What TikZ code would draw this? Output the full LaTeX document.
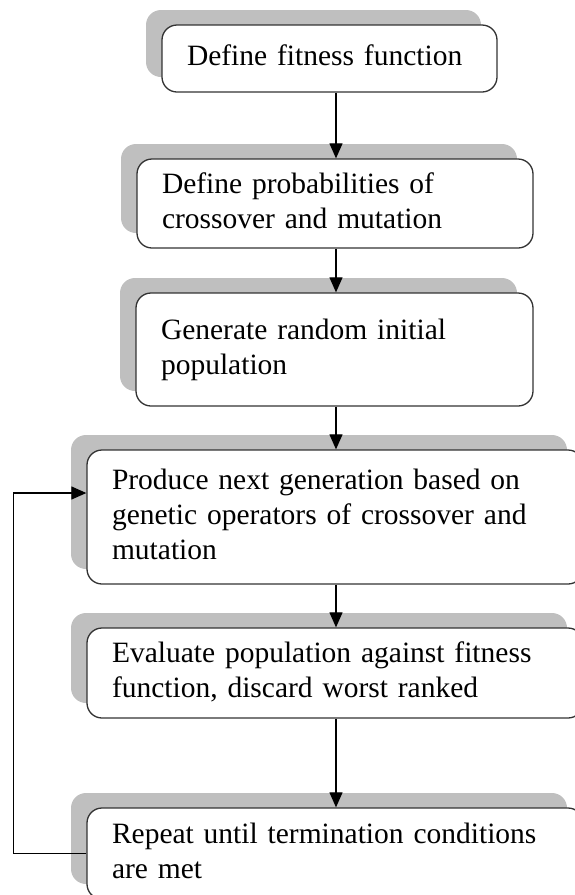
\documentclass[tikz,border=0pt]{standalone}
\usepackage{fontspec}
\setmainfont{Liberation Serif}
\usetikzlibrary{arrows.meta,shadows}
\tikzset{
  stepbox/.style={draw=black!80,line width=1.3pt,rounded corners=15pt,fill=white,
    align=left,inner xsep=25pt,inner ysep=0pt,
    font=\fontsize{29.5}{35}\selectfont,
    execute at begin node=\strut,execute at end node=\strut,
    general shadow={fill=gray!50,shadow xshift=-16pt,shadow yshift=15pt}},
  flow/.style={->,line width=1.2pt}
}

\begin{document}
\begin{tikzpicture}[>={Triangle[length=15pt,width=13pt]},x=1pt,y=-1pt]
  \useasboundingbox (0,0) rectangle (574,895);

  \node[stepbox,text width=285pt,minimum width=335pt,minimum height=67pt] (fit) at (329.5,58.5) {Define fitness function};
  \node[stepbox,text width=346pt,minimum width=396pt,minimum height=89pt] (prob) at (335,203.5) {Define probabilities of\\crossover and mutation};
  \node[stepbox,text width=347pt,minimum width=397pt,minimum height=113pt] (init) at (334.5,349.5) {Generate random initial\\population};
  \node[stepbox,text width=446pt,minimum width=496pt,minimum height=134pt] (prod) at (335,517) {Produce next generation based on\\genetic operators of crossover and\\mutation};
  \node[stepbox,text width=446pt,minimum width=496pt,minimum height=90pt] (eval) at (335,673) {Evaluate population against fitness\\function, discard worst ranked};
  \node[stepbox,text width=446pt,minimum width=496pt,minimum height=91pt] (rep) at (335,853.5) {Repeat until termination conditions\\are met};

  \coordinate (col) at (336,0);
  \draw[flow] (fit.south -| col) -- (prob.north -| col);
  \draw[flow] (prob.south -| col) -- (init.north -| col);
  \draw[flow] (init.south -| col) -- (prod.north -| col);
  \draw[flow] (prod.south -| col) -- (eval.north -| col);
  \draw[flow] (eval.south -| col) -- (rep.north -| col);

  % loop back
  \draw[flow] (rep.west) -- ++(-73,0) |- ([yshift=24pt]prod.west);
\end{tikzpicture}
\end{document}
